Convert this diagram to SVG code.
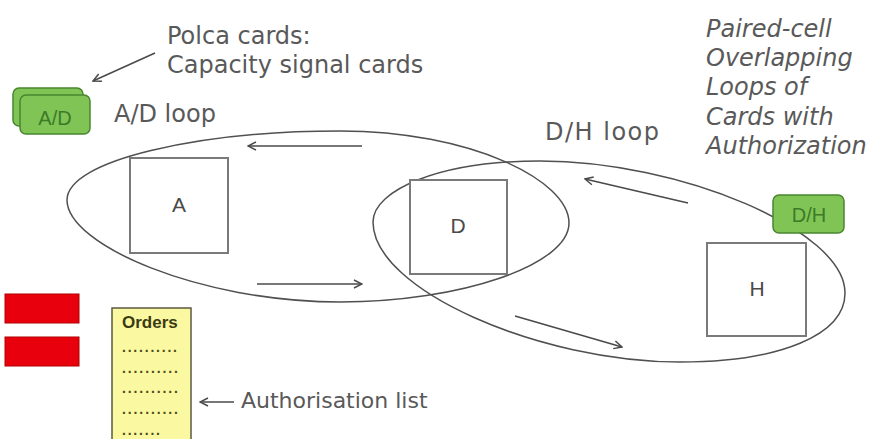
<svg xmlns="http://www.w3.org/2000/svg" width="879" height="439" viewBox="0 0 879 439">
  <style>
    .lbl { font-family: "DejaVu Sans", Verdana, sans-serif; fill: #595959; }
    .big { font-size: 24px; }
    .ital { font-family: "DejaVu Sans", Verdana, sans-serif; font-style: italic; font-size: 24px; fill: #595959; }
    .loop { fill: none; stroke: #505050; stroke-width: 1.5; }
    .box { fill: #ffffff; stroke: #7a7a7a; stroke-width: 2; }
    .boxtxt { font-family: "Liberation Sans", Arial, sans-serif; font-size: 21px; fill: #4a4a4a; text-anchor: middle; }
    .card { fill: #80c456; stroke: #4a8530; stroke-width: 1.5; }
    .cardtxt { font-family: "Liberation Sans", Arial, sans-serif; font-size: 20px; fill: #3c7a28; text-anchor: middle; }
    .arr { fill: none; stroke: #4a4a4a; stroke-width: 1.5; marker-end: url(#ah); }
    .red { fill: #e8000c; stroke: #b00000; stroke-width: 1; }
    .dots { font-family: "Liberation Sans", Arial, sans-serif; font-weight: bold; font-size: 14px; fill: #4a4a18; }
  </style>
  <defs>
    <marker id="ah" viewBox="0 0 10 10" refX="9" refY="5" markerWidth="10" markerHeight="10" markerUnits="userSpaceOnUse" orient="auto">
      <path d="M1,1 L9,5 L1,9" fill="none" stroke="#4a4a4a" stroke-width="1.5"/>
    </marker>
  </defs>
  <rect width="879" height="439" fill="#ffffff"/>

  <g id="loop-ad">
    <path class="loop" d="M67,200 C67,160 200,131 340,131 C470,131 569,180 569,223 C569,265 460,302 340,302 C200,302 67,245 67,200 Z"/>
    <text class="lbl big" x="114" y="122">A/D loop</text>
  </g>
  <g id="loop-dh">
    <path class="loop" d="M373,222 C373,190 440,161 540,161 C680,161 845,230 845,293 C845,335 780,362 680,362 C540,362 373,290 373,222 Z"/>
    <text class="lbl big" x="545" y="140" textLength="114">D/H loop</text>
  </g>

  <g id="node-a">
    <rect class="box" x="130" y="158" width="98" height="95"/>
    <text class="boxtxt" x="179" y="212">A</text>
  </g>
  <g id="node-d">
    <rect class="box" x="410" y="180" width="97" height="94"/>
    <text class="boxtxt" x="458" y="233">D</text>
  </g>
  <g id="node-h">
    <rect class="box" x="707" y="243" width="99" height="93"/>
    <text class="boxtxt" x="757" y="296">H</text>
  </g>

  <g id="card-ad">
    <rect class="card" x="13" y="88" width="70" height="38" rx="6"/>
    <rect class="card" x="20" y="95" width="70" height="39" rx="6"/>
    <text class="cardtxt" x="55" y="125">A/D</text>
  </g>
  <g id="card-dh">
    <rect class="card" x="773" y="195" width="71" height="38" rx="6"/>
    <text class="cardtxt" x="809" y="222">D/H</text>
  </g>

  <g id="polca-label">
    <text class="lbl big" x="167" y="44">Polca cards:</text>
    <text class="lbl big" x="167" y="73">Capacity signal cards</text>
  </g>

  <g id="title">
    <text class="ital" x="706" y="37">Paired-cell</text>
    <text class="ital" x="706" y="66">Overlapping</text>
    <text class="ital" x="706" y="95">Loops of</text>
    <text class="ital" x="706" y="125">Cards with</text>
    <text class="ital" x="706" y="154">Authorization</text>
  </g>

  <g id="red-signals">
    <rect class="red" x="5" y="294" width="74" height="29"/>
    <rect class="red" x="5" y="337" width="74" height="29"/>
  </g>

  <g id="orders">
    <rect x="112" y="308" width="79" height="140" fill="#fbf8a2" stroke="#5a5a40" stroke-width="1.5"/>
    <text x="122" y="328" font-family="Liberation Sans, Arial, sans-serif" font-weight="bold" font-size="17" fill="#3b3b12">Orders</text>
    <text class="dots" x="122" y="352" textLength="55">..........</text>
    <text class="dots" x="122" y="373" textLength="56">..........</text>
    <text class="dots" x="122" y="393" textLength="56">..........</text>
    <text class="dots" x="122" y="414" textLength="56">..........</text>
    <text class="dots" x="122" y="435" textLength="38">.......</text>
  </g>

  <g id="auth-label">
    <text class="lbl" font-size="22" x="241" y="408">Authorisation list</text>
  </g>

  <g id="connectors">
    <line class="arr" x1="155" y1="53" x2="93" y2="81"/>
    <line class="arr" x1="362" y1="146" x2="248" y2="146"/>
    <line class="arr" x1="257" y1="284" x2="362" y2="284"/>
    <line class="arr" x1="688" y1="203" x2="585" y2="179"/>
    <line class="arr" x1="515" y1="316" x2="622" y2="347"/>
    <line class="arr" x1="234" y1="402" x2="200" y2="402"/>
  </g>
</svg>
